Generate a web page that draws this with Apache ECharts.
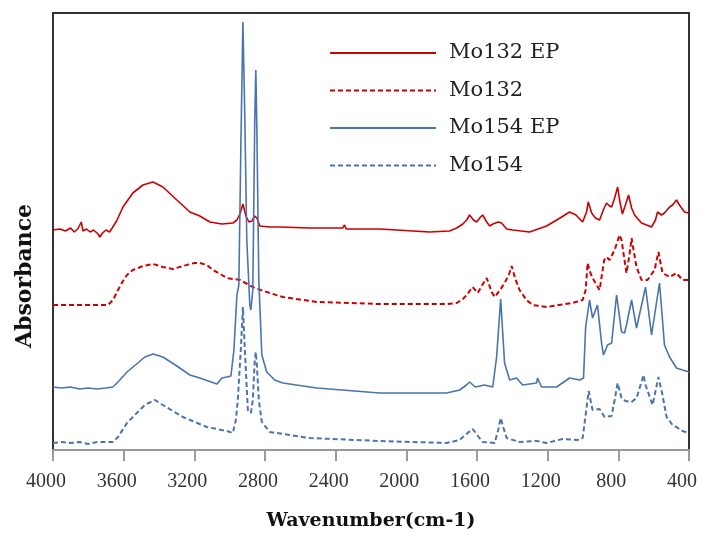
<!DOCTYPE html>
<html>
<head>
<meta charset="utf-8">
<script src="https://cdn.jsdelivr.net/npm/echarts@6/dist/echarts.min.js"></script>
<style>
html,body{margin:0;padding:0;background:#fff;}
#chart{width:715px;height:542px;}
</style>
</head>
<body>
<div id="chart"></div>
<script>
// Series names
const seriesNames = ['Mo132 EP', 'Mo132', 'Mo154 EP', 'Mo154'];
// x axis tick labels (wavenumber, cm-1)
const xTicks = [4000, 3600, 3200, 2800, 2400, 2000, 1600, 1200, 800, 400];
const xTitle = 'Wavenumber(cm-1)';
const yTitle = 'Absorbance';

// [wavenumber, absorbance (arbitrary offset units)]
const mo132EP = [
 [4000,220],[3960,221],[3930,219],[3900,222],[3880,218],[3860,221],[3840,228],[3830,219],[3810,221],[3790,218],
 [3770,220],[3745,216],[3735,213],[3720,217],[3700,220],[3680,218],[3665,222],[3640,229],[3604,243],[3548,257],
 [3491,265],[3434,268],[3378,263],[3299,250],[3225,238],[3169,234],[3112,228],[3044,226],[2982,227],[2959,230],
 [2942,236],[2925,246],[2908,234],[2891,228],[2874,229],[2858,234],[2846,232],[2829,224],[2773,223],[2716,223],
 [2546,222],[2360,222],[2350,225],[2340,221],[2151,221],[1868,218],[1755,219],[1715,222],[1680,226],[1658,230],
 [1642,235],[1620,230],[1602,228],[1580,233],[1568,235],[1545,228],[1528,224],[1510,226],[1480,228],[1461,227],
 [1432,221],[1398,220],[1302,218],[1206,224],[1130,232],[1076,238],[1040,235],[1002,228],[980,238],[970,248],
 [951,237],[930,232],[906,230],[885,240],[867,247],[850,244],[838,243],[821,252],[804,263],[793,250],
 [777,236],[760,245],[742,255],[725,242],[708,235],[669,227],[612,223],[590,230],[578,238],[556,235],
 [539,237],[510,243],[493,245],[471,250],[454,245],[442,242],[425,238],[400,237]
];
const mo132 = [
 [4000,145],[3689,145],[3660,150],[3632,160],[3604,169],[3581,175],[3548,180],[3491,184],[3434,186],[3378,183],
 [3321,181],[3265,184],[3200,187],[3169,187],[3129,185],[3095,180],[3044,175],[3016,172],[2942,170],[2900,166],
 [2858,162],[2773,157],[2699,153],[2507,148],[2151,146],[1772,146],[1715,147],[1680,151],[1658,155],[1625,163],
 [1596,157],[1570,165],[1545,172],[1517,158],[1500,153],[1470,160],[1444,167],[1420,175],[1404,184],[1385,172],
 [1359,160],[1320,150],[1285,145],[1206,143],[1059,147],[1002,150],[985,160],[974,187],[960,178],[946,172],
 [935,170],[906,160],[880,190],[867,193],[850,190],[821,200],[793,215],[782,210],[765,190],[754,177],
 [737,195],[725,212],[714,200],[697,183],[669,170],[635,170],[595,180],[573,198],[550,177],[510,173],
 [471,177],[437,170],[400,170]
];
const mo154EP = [
 [4000,63],[3950,62],[3900,63],[3850,61],[3800,62],[3750,61],[3700,62],[3661,63],[3632,68],[3581,78],
 [3520,87],[3480,93],[3434,96],[3378,93],[3299,84],[3225,75],[3169,72],[3072,66],[3044,72],[3016,73],
 [2993,74],[2976,100],[2959,155],[2948,165],[2937,300],[2925,428],[2914,330],[2903,210],[2886,145],[2880,140],
 [2869,160],[2858,330],[2852,380],[2846,320],[2835,170],[2818,95],[2790,78],[2745,70],[2699,67],[2507,62],
 [2151,57],[1772,57],[1698,60],[1660,65],[1642,68],[1610,63],[1557,65],[1511,63],[1489,93],[1466,151],
 [1444,87],[1415,70],[1376,72],[1342,65],[1263,67],[1257,72],[1235,63],[1149,63],[1076,72],[1019,70],
 [997,72],[985,123],[963,150],[946,132],[918,145],[895,107],[884,95],[861,105],[838,107],[810,155],
 [782,118],[765,117],[754,125],[725,150],[697,122],[646,163],[612,115],[606,113],[567,167],[550,130],
 [539,105],[510,93],[471,82],[437,80],[400,78]
];
const mo154 = [
 [4000,7],[3950,8],[3900,7],[3850,8],[3800,6],[3750,8],[3700,8],[3661,8],[3632,13],[3581,27],
 [3520,38],[3480,45],[3423,50],[3378,45],[3265,33],[3129,23],[3016,19],[2982,17],[2965,30],[2954,50],
 [2937,100],[2925,143],[2914,100],[2897,40],[2880,37],[2869,50],[2858,90],[2852,98],[2846,85],[2835,50],
 [2818,28],[2773,18],[2546,12],[2151,9],[1772,7],[1698,10],[1660,16],[1625,21],[1590,13],[1568,8],
 [1500,7],[1480,20],[1466,32],[1450,22],[1432,12],[1359,8],[1263,9],[1206,7],[1116,11],[1019,10],
 [1002,12],[985,35],[968,59],[946,40],[935,38],[906,41],[878,33],[838,34],[821,50],[804,67],
 [782,52],[760,49],[725,48],[697,52],[669,68],[657,75],[646,65],[606,45],[573,73],[550,55],
 [527,33],[493,25],[471,23],[437,19],[400,17]
];

const RED = '#cc0000';
const BLUE = '#4a74ad';
const SERIF = '"DejaVu Serif", "Liberation Serif", serif';

const chart = echarts.init(document.getElementById('chart'), null, {renderer: 'canvas'});
function mk(name, data, color, dashed) {
  return {
    name: name, type: 'line', data: data, symbol: 'none', showSymbol: false, smooth: false,
    lineStyle: dashed ? {color: color, width: 2, type: [5, 3]} : {color: color, width: 1.6},
    itemStyle: {color: color}, z: dashed ? 2 : 3, animation: false
  };
}
chart.setOption({
  animation: false,
  backgroundColor: '#fff',
  grid: {left: 53, right: 26, top: 13, bottom: 92, show: true, borderColor: '#333', borderWidth: 2, backgroundColor: 'transparent'},
  legend: {
    orient: 'vertical', left: 329, top: 42, padding: 0,
    itemWidth: 106, itemHeight: 14, itemGap: 15.5,
    itemStyle: {opacity: 0},
    data: seriesNames,
    textStyle: {fontFamily: SERIF, fontSize: 21, color: '#222', lineHeight: 22, padding: [0, 0, 0, 8]}
  },
  xAxis: {
    type: 'value', inverse: true,
    min: xTicks[xTicks.length - 1], max: xTicks[0], interval: xTicks[0] - xTicks[1],
    name: xTitle, nameLocation: 'middle', nameGap: 62,
    nameTextStyle: {fontFamily: SERIF, fontSize: 19, fontWeight: 'bold', color: '#111'},
    axisLine: {show: true, onZero: false, lineStyle: {color: '#999', width: 2}},
    axisTick: {show: true, inside: false, length: 11, lineStyle: {color: '#999', width: 2}},
    axisLabel: {
      fontFamily: '"Liberation Serif", serif', fontSize: 20, color: '#333', margin: 22, padding: [0, 14, 0, 0],
      formatter: function (v) { return String(v); }
    },
    splitLine: {show: false}
  },
  yAxis: {
    type: 'value', min: 0, max: 437,
    axisLine: {show: false}, axisTick: {show: false}, axisLabel: {show: false}, splitLine: {show: false}
  },
  graphic: [{
    type: 'text', x: 25, y: 276, rotation: Math.PI / 2,
    style: {text: yTitle, font: 'bold 22px ' + SERIF, fill: '#111', align: 'center', verticalAlign: 'middle'}
  }],
  series: [
    mk(seriesNames[0], mo132EP, RED, false),
    mk(seriesNames[1], mo132, RED, true),
    mk(seriesNames[2], mo154EP, BLUE, false),
    mk(seriesNames[3], mo154, BLUE, true)
  ]
});
</script>
</body>
</html>
